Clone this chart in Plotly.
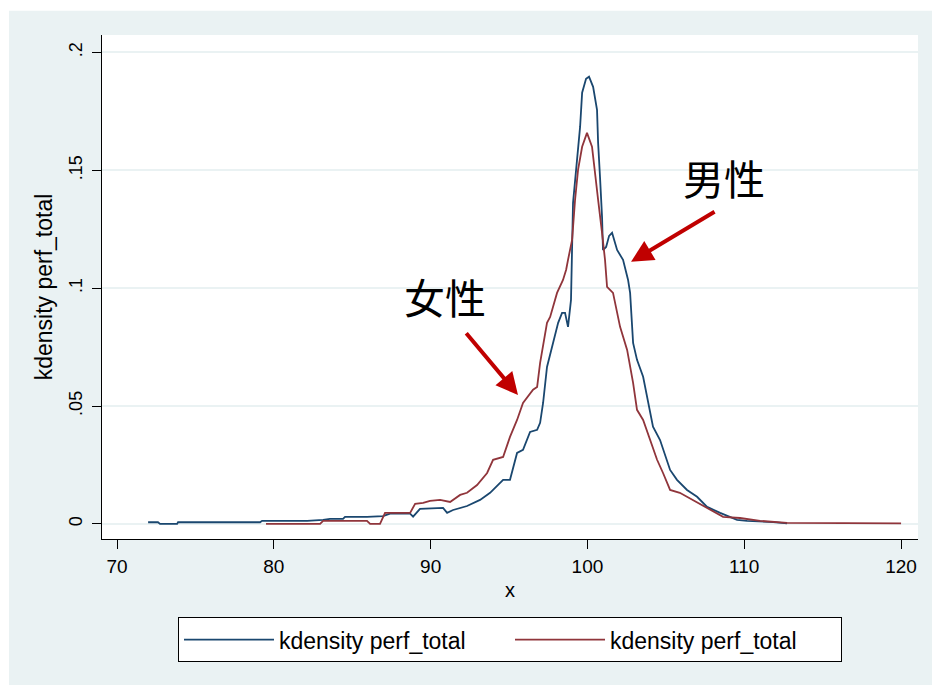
import plotly.graph_objects as go

# Kernel density estimates of perf_total (two groups)
male_x = [71.98, 72.61, 72.74, 73.83, 73.89, 79.12, 79.25, 80.59, 82.12, 83.14, 83.58, 84.41,
          84.54, 85.94, 86.96, 87.41, 88.69, 88.88, 89.32, 90.79, 91.05, 91.43, 92.32, 93.15,
          93.79, 94.62, 95.06, 95.51, 95.89, 96.34, 96.79, 96.98, 97.17, 97.42, 97.74, 98.13,
          98.38, 98.57, 98.76, 98.95, 99.08, 99.34, 99.53, 99.66, 99.91, 100.10, 100.36, 100.61,
          100.68, 100.80, 100.93, 100.99, 101.19, 101.38, 101.57, 101.89, 102.27, 102.59, 102.72,
          102.91, 103.16, 103.55, 103.99, 104.18, 104.63, 105.08, 105.27, 105.71, 106.35, 106.99,
          107.63, 108.46, 109.54, 110.18, 111.01, 111.84, 112.73]
male_y = [0.0007, 0.0007, 0.0, 0.0, 0.0007, 0.0007, 0.0013, 0.0013, 0.0013, 0.0017, 0.0021, 0.0021,
          0.0030, 0.0030, 0.0033, 0.0044, 0.0044, 0.0031, 0.0064, 0.0068, 0.0047, 0.0059, 0.0076, 0.0102,
          0.0132, 0.0187, 0.0187, 0.0301, 0.0314, 0.0390, 0.0399, 0.0429, 0.0513, 0.0666, 0.0751, 0.0853,
          0.0895, 0.0895, 0.0836, 0.0950, 0.1362, 0.1532, 0.1684, 0.1829, 0.1888, 0.1897, 0.1854, 0.1756,
          0.1616, 0.1472, 0.1303, 0.1162, 0.1175, 0.1222, 0.1235, 0.1162, 0.1120, 0.1035, 0.0980,
          0.0768, 0.0696, 0.0624, 0.0484, 0.0412, 0.0356, 0.0272, 0.0229, 0.0187, 0.0144, 0.0115,
          0.0072, 0.0047, 0.0017, 0.0013, 0.0011, 0.0008, 0.0002]

female_x = [79.50, 82.95, 83.14, 85.94, 86.14, 86.77, 87.09, 88.69, 89.01, 89.52, 89.96, 90.60,
            91.24, 91.88, 92.32, 92.96, 93.60, 93.98, 94.62, 95.06, 95.51, 95.89, 96.53, 96.79,
            96.98, 97.42, 97.62, 98.06, 98.44, 98.64, 98.76, 99.02, 99.21, 99.40, 99.66, 99.97,
            100.29, 100.48, 100.68, 100.93, 101.12, 101.25, 101.63, 102.08, 102.53, 102.91, 103.16,
            103.55, 103.99, 104.44, 104.82, 105.27, 105.89, 106.73, 107.63, 108.65, 109.73, 111.01,
            112.73, 120.00]
female_y = [0.0, 0.0, 0.0013, 0.0013, 0.0, 0.0, 0.0047, 0.0047, 0.0085, 0.0089, 0.0098, 0.0102,
            0.0093, 0.0123, 0.0132, 0.0165, 0.0216, 0.0272, 0.0284, 0.0369, 0.0441, 0.0513, 0.0569, 0.0581,
            0.0683, 0.0853, 0.0878, 0.0980, 0.1035, 0.1078, 0.1120, 0.1205, 0.1375, 0.1502, 0.1600, 0.1659,
            0.1600, 0.1502, 0.1375, 0.1235, 0.1120, 0.1006, 0.0980, 0.0836, 0.0738, 0.0598, 0.0484,
            0.0441, 0.0356, 0.0272, 0.0216, 0.0144, 0.0132, 0.0102, 0.0068, 0.0030, 0.0025, 0.0013,
            0.0004, 0.0002]

x_ticks = [70, 80, 90, 100, 110, 120]
y_ticks = [0, 0.05, 0.1, 0.15, 0.2]
y_tick_labels = ["0", ".05", ".1", ".15", ".2"]
series_name = "kdensity perf_total"

NAVY = "#1A476F"
MAROON = "#90353B"
BG = "#EAF2F3"
FONT = "Liberation Sans, Arial, sans-serif"
CJK = "Noto Sans CJK SC"

fig = go.Figure()
fig.add_trace(go.Scatter(x=male_x, y=male_y, mode="lines", name=series_name,
                         line=dict(color=NAVY, width=1.8)))
fig.add_trace(go.Scatter(x=female_x, y=female_y, mode="lines", name=series_name,
                         line=dict(color=MAROON, width=1.8)))

# group labels with arrows
fig.add_annotation(x=95.57, y=0.0547, ax=92.19, ay=0.0815, xref="x", yref="y",
                   axref="x", ayref="y", text="", showarrow=True,
                   arrowhead=2, arrowsize=1.1, arrowwidth=4, arrowcolor="#C00000")
fig.add_annotation(x=102.78, y=0.1112, ax=108.20, ay=0.1328, xref="x", yref="y",
                   axref="x", ayref="y", text="", showarrow=True,
                   arrowhead=2, arrowsize=1.1, arrowwidth=4, arrowcolor="#C00000")
fig.add_annotation(x=90.90, y=0.0966, text="女性", showarrow=False,
                   font=dict(family=CJK, size=41, color="black"))
fig.add_annotation(x=108.70, y=0.1470, text="男性", showarrow=False,
                   font=dict(family=CJK, size=41, color="black"))

# white border strips around the graph region
fig.add_shape(type="rect", xref="paper", yref="paper", x0=-0.2, x1=-0.114, y0=-0.4, y1=1.2,
              fillcolor="white", line=dict(width=0), layer="below")
fig.add_shape(type="rect", xref="paper", yref="paper", x0=-0.2, x1=1.2, y0=1.048, y1=1.2,
              fillcolor="white", line=dict(width=0), layer="below")

fig.update_layout(
    width=932, height=685,
    margin=dict(l=102, r=14, t=35, b=146),
    paper_bgcolor=BG, plot_bgcolor="white",
    font=dict(family=FONT, size=20, color="black"),
    showlegend=True,
    legend=dict(orientation="h", x=0.5, xanchor="center", y=-0.155, yanchor="top",
                bgcolor="white", bordercolor="black", borderwidth=1,
                entrywidth=226, itemwidth=90, font=dict(size=23)),
    xaxis=dict(range=[69.04, 121.08], tickvals=x_ticks, ticks="outside", ticklen=9,
               tickcolor="black", showline=True, linecolor="black", linewidth=1.2,
               showgrid=False, zeroline=False, mirror=False, ticklabelstandoff=1,
               title=dict(text="x", font=dict(size=20), standoff=7),
               tickfont=dict(size=19)),
    yaxis=dict(range=[-0.0064, 0.2074], tickvals=y_ticks, ticktext=y_tick_labels,
               ticks="outside", ticklen=9, tickcolor="black", tickangle=-90,
               showline=True, linecolor="black", linewidth=1.2, ticklabelstandoff=3,
               showgrid=True, gridcolor=BG, gridwidth=1.5, zeroline=False,
               title=dict(text=series_name, font=dict(size=23), standoff=6),
               tickfont=dict(size=18)),
)

fig.write_html("out.html")
